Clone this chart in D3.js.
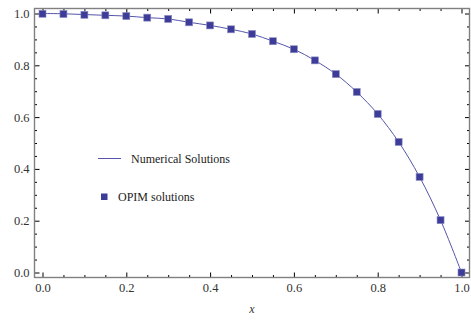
<!DOCTYPE html>
<html>
<head>
<meta charset="utf-8">
<script src="https://cdn.jsdelivr.net/npm/d3@7"></script>
<style>
  body { margin: 0; background: #fff; }
  text { font-family: "Liberation Serif", "DejaVu Serif", serif; }
</style>
</head>
<body>
<svg id="chart" width="471" height="320"></svg>
<script>
// data
let xs = [0, 0.05, 0.1, 0.15, 0.2, 0.25, 0.3, 0.35, 0.4, 0.45, 0.5,
          0.55, 0.6, 0.65, 0.7, 0.75, 0.8, 0.85, 0.9, 0.95, 1.0];
let numerical = [1.0, 0.999, 0.996, 0.993, 0.990, 0.984, 0.979, 0.966, 0.954, 0.939, 0.921,
                 0.893, 0.862, 0.819, 0.766, 0.697, 0.612, 0.504, 0.369, 0.202, 0.0];
let opim = [0.999, 0.998, 0.995, 0.993, 0.990, 0.984, 0.979, 0.966, 0.954, 0.939, 0.921,
            0.893, 0.862, 0.819, 0.766, 0.697, 0.612, 0.504, 0.369, 0.202, 0.0];
let majorTicks = [0, 0.2, 0.4, 0.6, 0.8, 1.0];
let minorTicks = d3.range(0, 21).map(i => i / 20).filter(v => Math.round(v * 100) % 20 != 0);
let legendLabels = ["Numerical Solutions", "OPIM solutions"];

let color = "#3d3d99";
let svg = d3.select("#chart");

let frame = {left: 34.5, right: 469.5, top: 8.5, bottom: 277.5};

let x = d3.scaleLinear().domain([0, 1]).range([42.5, 461.5]);
let y = d3.scaleLinear().domain([0, 1]).range([272.5, 13.5]);

let fmt = d3.format(".1f");

function tickAxis(axis, transform, size, values, labels) {
    let g = svg.append("g")
        .attr("transform", transform)
        .call(axis.tickValues(values).tickSizeInner(size).tickSizeOuter(0)
              .tickPadding(labels ? 6 : 0).tickFormat(labels ? fmt : ""));
    g.select(".domain").remove();
    g.selectAll("line").attr("stroke", "#000").attr("stroke-width", 1);
    g.selectAll("text").attr("font-size", 12.5).attr("fill", "#333")
        .style("font-family", "'Liberation Serif', serif");
    return g;
}

// bottom / top
tickAxis(d3.axisBottom(x), `translate(0,${frame.bottom})`, -5, majorTicks, true);
tickAxis(d3.axisBottom(x), `translate(0,${frame.bottom})`, -2.5, minorTicks, false);
tickAxis(d3.axisTop(x), `translate(0,${frame.top})`, -5, majorTicks, false);
tickAxis(d3.axisTop(x), `translate(0,${frame.top})`, -2.5, minorTicks, false);
// left / right
tickAxis(d3.axisLeft(y), `translate(${frame.left},0)`, -5, majorTicks, true)
    .selectAll("text").attr("x", -5);
tickAxis(d3.axisLeft(y), `translate(${frame.left},0)`, -2.5, minorTicks, false);
tickAxis(d3.axisRight(y), `translate(${frame.right},0)`, -4.5, majorTicks, false);
tickAxis(d3.axisRight(y), `translate(${frame.right},0)`, -2.5, minorTicks, false);

svg.append("rect")
    .attr("x", frame.left).attr("y", frame.top)
    .attr("width", frame.right - frame.left).attr("height", frame.bottom - frame.top)
    .attr("fill", "none").attr("stroke", "#808080").attr("stroke-width", 1.4);

// numerical line
let line = d3.line()
    .x((d, i) => x(xs[i]))
    .y(d => y(d))
    .curve(d3.curveCatmullRom);

svg.append("path")
    .datum(numerical)
    .attr("d", line)
    .attr("fill", "none")
    .attr("stroke", "#5555aa")
    .attr("stroke-width", 1);

// OPIM squares
let s = 7;
svg.selectAll("rect.pt")
    .data(opim)
    .enter().append("rect")
    .attr("class", "pt")
    .attr("x", (d, i) => x(xs[i]) - s / 2)
    .attr("y", d => y(d) - s / 2)
    .attr("width", s).attr("height", s)
    .attr("fill", color)
    .attr("stroke", "#8c8cc4")
    .attr("stroke-width", 0.6);

// legend
svg.append("line")
    .attr("x1", 98).attr("x2", 121).attr("y1", 158.5).attr("y2", 158.5)
    .attr("stroke", "#5555aa").attr("stroke-width", 1);
svg.append("text").attr("x", 131).attr("y", 162.5)
    .attr("font-size", 12).attr("fill", "#222").text(legendLabels[0]);
svg.append("rect")
    .attr("x", 101).attr("y", 193.5).attr("width", 6.5).attr("height", 6.5)
    .attr("fill", color);
svg.append("text").attr("x", 118).attr("y", 201)
    .attr("font-size", 12).attr("fill", "#222").text(legendLabels[1]);

// axis label
svg.append("text").attr("x", 252).attr("y", 313)
    .attr("text-anchor", "middle").attr("font-size", 12)
    .attr("font-style", "italic").attr("fill", "#333").text("x");
</script>
</body>
</html>
